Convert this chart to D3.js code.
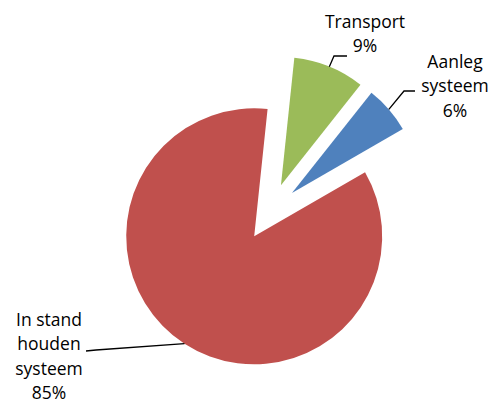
<!DOCTYPE html>
<html>
<head>
<meta charset="utf-8">
<script src="https://cdn.jsdelivr.net/npm/d3@7"></script>
<style>
  body { margin: 0; background: #fff; }
  text { font-family: 'Open Sans', Lato, sans-serif; }
</style>
</head>
<body>
<svg id="main"></svg>
<script>
// data, in the order the slices run clockwise from the start angle
const categories = ['Transport', 'Aanleg systeem', 'In stand houden systeem'];
const values = [9, 6, 85];
const labelLines = [
  ['Transport', '9%'],
  ['Aanleg', 'systeem', '6%'],
  ['In stand', 'houden', 'systeem', '85%']
];
const colors = ['#9bbb59', '#4f81bd', '#c0504d'];

let width = 495,
  height = 407;

let cx = 270, cy = 212,
  radius = 128,
  explode = 29,
  start = 6 * Math.PI / 180;

// where each label block sits (centre x, first baseline y) and the elbow of its leader line
const labelPos = [
  { x: 365, y: 27.5, elbow: [334, 56], end: [347, 56] },
  { x: 455, y: 67.5, elbow: [404, 91], end: [415, 91] },
  { x: 49, y: 325.5, elbow: [96, 350], end: [86, 351] }
];

const svg = d3.select('#main')
  .attr('width', width)
  .attr('height', height);

const data = categories.map((c, i) => ({ name: c, value: values[i], i: i }));

const pie = d3.pie()
  .sort(null)
  .value(d => d.value)
  .startAngle(start)
  .endAngle(start + 2 * Math.PI);

const arc = d3.arc()
  .innerRadius(0)
  .outerRadius(radius);

const edge = d3.arc()
  .innerRadius(radius)
  .outerRadius(radius);

const arcs = pie(data);

const shift = d => {
  let mid = (d.startAngle + d.endAngle) / 2;
  return [cx + explode * Math.sin(mid), cy - explode * Math.cos(mid)];
};

svg.selectAll('.slice')
  .data(arcs)
  .enter()
  .append('path')
  .attr('class', 'slice')
  .attr('d', arc)
  .attr('fill', d => colors[d.data.i])
  .attr('transform', d => `translate(${shift(d)})`);

// leader lines: from the outer edge at the slice middle to the label
svg.selectAll('.leader')
  .data(arcs)
  .enter()
  .append('polyline')
  .attr('class', 'leader')
  .attr('fill', 'none')
  .attr('stroke', '#000')
  .attr('stroke-width', 1.3)
  .attr('points', d => {
    let s = shift(d);
    let p = edge.centroid(d);
    let lp = labelPos[d.data.i];
    return [[s[0] + p[0], s[1] + p[1]], lp.elbow, lp.end].map(q => q.join(',')).join(' ');
  });

const labels = svg.selectAll('.label')
  .data(arcs)
  .enter()
  .append('text')
  .attr('class', 'label')
  .attr('text-anchor', 'middle')
  .attr('font-size', '17.5px')
  .attr('fill', '#000');

labels.selectAll('tspan')
  .data(d => labelLines[d.data.i].map(t => ({ t: t, i: d.data.i })))
  .enter()
  .append('tspan')
  .attr('x', d => labelPos[d.i].x)
  .attr('y', (d, j) => labelPos[d.i].y + j * 24.5)
  .text(d => d.t);
</script>
</body>
</html>
